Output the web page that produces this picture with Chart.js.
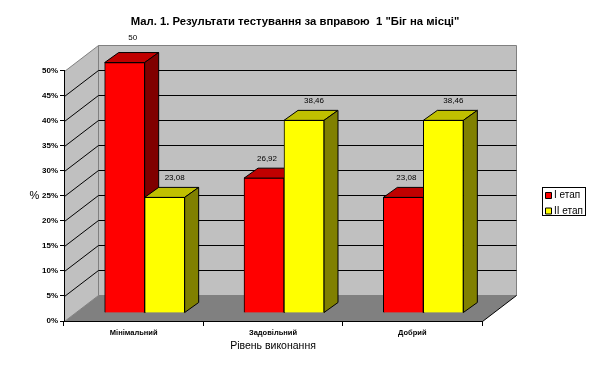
<!DOCTYPE html>
<html>
<head>
<meta charset="utf-8">
<script src="https://cdn.jsdelivr.net/npm/chart.js@4"></script>
<style>
html, body { margin: 0; padding: 0; background: #fff; }
canvas { display: block; }
</style>
</head>
<body>
<canvas id="chart" width="592" height="369"></canvas>
<script>
const categories = ['Мінімальний', 'Задовільний', 'Добрий']
const stage1 = [50, 26.92, 23.08]
const stage2 = [23.08, 38.46, 38.46]
const seriesNames = ['I етап', 'II етап']
const chartTitle = 'Мал. 1. Результати тестування за вправою  1 "Біг на місці"'

// 3d look: back wall offset, and how far the bars sit behind the front plane
const wallDx = 34, wallDy = 26
const barDx = 11, barDy = 8
const sideDx = 14, sideDy = 10

const faces = [
    { top: '#c00000', side: '#800000' },
    { top: '#c0c000', side: '#808000' }
]

function poly(ctx, pts, fill, stroke) {
    ctx.beginPath()
    pts.forEach((p, i) => i ? ctx.lineTo(p[0], p[1]) : ctx.moveTo(p[0], p[1]))
    ctx.closePath()
    if (fill) { ctx.fillStyle = fill; ctx.fill() }
    if (stroke) { ctx.strokeStyle = stroke; ctx.lineWidth = 1; ctx.stroke() }
}

const walls3d = {
    id: 'walls3d',
    beforeDraw(chart) {
        const { ctx, chartArea: a, scales: { y } } = chart
        const l = Math.round(a.left) + 0.5, r = Math.round(a.right) + 0.5
        const b = Math.round(a.bottom) + 0.5, t = Math.round(a.top) + 0.5
        ctx.save()
        poly(ctx, [[l + wallDx, t - wallDy], [r + wallDx, t - wallDy], [r + wallDx, b - wallDy], [l + wallDx, b - wallDy]], '#c0c0c0', '#808080')
        poly(ctx, [[l, t], [l + wallDx, t - wallDy], [l + wallDx, b - wallDy], [l, b]], '#c0c0c0', '#808080')
        poly(ctx, [[l, b], [l + wallDx, b - wallDy], [r + wallDx, b - wallDy], [r, b]], '#808080')
        ctx.strokeStyle = '#000'
        ctx.lineWidth = 1
        ctx.beginPath()
        y.ticks.forEach(tick => {
            if (tick.value === 0 || tick.value === y.max) return
            const py = Math.round(y.getPixelForValue(tick.value)) + 0.5
            ctx.moveTo(l, py)
            ctx.lineTo(l + wallDx, py - wallDy)
            ctx.lineTo(r + wallDx, py - wallDy)
        })
        ctx.moveTo(r, b)
        ctx.lineTo(r + wallDx, b - wallDy)
        ctx.stroke()
        ctx.restore()
    },
    beforeDatasetsDraw(chart) {
        const { ctx } = chart
        ctx.save()
        ctx.translate(barDx, -barDy)
        chart.data.datasets.forEach((ds, i) => {
            const meta = chart.getDatasetMeta(i)
            meta.data.forEach(bar => {
                const x0 = bar.x - bar.width / 2, x1 = bar.x + bar.width / 2
                const y0 = bar.y, y1 = bar.base
                poly(ctx, [[x0, y0], [x0 + sideDx, y0 - sideDy], [x1 + sideDx, y0 - sideDy], [x1, y0]], faces[i].top, '#000')
                poly(ctx, [[x1, y0], [x1 + sideDx, y0 - sideDy], [x1 + sideDx, y1 - sideDy], [x1, y1]], faces[i].side, '#000')
            })
            meta.controller.draw()
        })
        ctx.restore()
        return false
    },
    afterDraw(chart) {
        const { ctx, chartArea: a, scales: { y } } = chart
        ctx.save()
        ctx.fillStyle = '#000'
        ctx.font = '8px "Liberation Sans"'
        ctx.textAlign = 'center'
        ctx.textBaseline = 'middle'
        chart.data.datasets.forEach((ds, i) => {
            chart.getDatasetMeta(i).data.forEach((bar, j) => {
                const top = ds.data[j] === y.max
                const dx = top ? 8 : (i ? 10 : 3)
                ctx.fillText(String(ds.data[j]).replace('.', ','), bar.x + barDx + dx, bar.y - barDy - (top ? 25 : 19.5))
            })
        })
        ctx.font = '11px "Liberation Sans"'
        ctx.fillText('%', 34.5, (a.top + a.bottom) / 2)
        // frame round the legend
        const lg = chart.legend
        ctx.strokeStyle = '#000'
        ctx.lineWidth = 1
        ctx.strokeRect(Math.floor(lg.left) + 0.5, lg.top + 2.5, 43, 28)
        ctx.restore()
    },
    afterLayout(chart) {
        const lg = chart.legend
        lg.left = 542.5
        lg.right = lg.left + 43
        lg.top = 185
        lg.bottom = lg.top + 60
        // title is centred on the whole picture, not on the plot
        chart.titleBlock.left = 0
        chart.titleBlock.right = 590
    }
}

new Chart(document.getElementById('chart').getContext('2d'), {
    type: 'bar',
    data: {
        labels: categories,
        datasets: [
            { label: seriesNames[0], data: stage1, backgroundColor: '#ff0000', borderColor: '#000', borderWidth: 1, barThickness: 40 },
            { label: seriesNames[1], data: stage2, backgroundColor: '#ffff00', borderColor: '#000', borderWidth: 1, barThickness: 40 }
        ]
    },
    options: {
        responsive: false,
        animation: false,
        layout: { padding: { right: 110 } },
        plugins: {
            title: {
                display: true,
                text: chartTitle,
                color: '#000',
                font: { family: '"Liberation Sans"', size: 11.3, weight: 'bold' },
                padding: { top: 15, bottom: 42 }
            },
            legend: {
                position: 'chartArea',
                align: 'start',
                labels: {
                    color: '#000',
                    font: { family: '"Liberation Sans"', size: 10 },
                    usePointStyle: true,
                    pointStyle: 'rect',
                    boxWidth: 1,
                    boxHeight: 6,
                    padding: 5.5
                }
            },
            tooltip: { enabled: false }
        },
        scales: {
            x: {
                border: { color: '#000' },
                grid: { drawOnChartArea: false, color: '#000', tickLength: 5 },
                ticks: { color: '#000', font: { family: '"Liberation Sans"', size: 7.5, weight: 'bold' }, padding: 2, maxRotation: 0 },
                title: { display: true, text: 'Рівень виконання', color: '#000', font: { family: '"Liberation Sans"', size: 10.5 }, padding: { top: 0, bottom: 17 } },
                afterFit(scale) { scale.height = 48 }
            },
            y: {
                min: 0,
                max: 50,
                border: { color: '#000' },
                grid: { drawOnChartArea: false, color: '#000', tickLength: 4 },
                ticks: { stepSize: 5, color: '#000', font: { family: '"Liberation Sans"', size: 8, weight: 'bold' }, padding: 2, callback: v => v + '%' },
                afterFit(scale) { scale.width = 64 }
            }
        }
    },
    plugins: [walls3d]
})
</script>
</body>
</html>
